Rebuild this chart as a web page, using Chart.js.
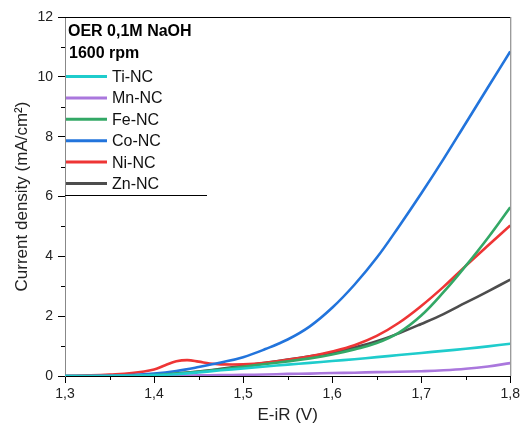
<!DOCTYPE html>
<html>
<head>
<meta charset="utf-8">
<script src="https://cdn.jsdelivr.net/npm/chart.js@4"></script>
<style>
  body { margin: 0; background: #fff; }
  canvas { display: block; }
</style>
</head>
<body>
<canvas id="oerChart" width="523" height="430"></canvas>
<script>
// Data (potential in V, current density in mA/cm2)
const potentials = [1.3, 1.325, 1.35, 1.375, 1.4, 1.425, 1.45, 1.475, 1.5, 1.525, 1.55,
    1.575, 1.6, 1.625, 1.65, 1.675, 1.7, 1.725, 1.75, 1.775, 1.8]

const tiNC = [0, 0, 0, 0.01, 0.03, 0.06, 0.12, 0.19, 0.25, 0.32, 0.38,
    0.44, 0.50, 0.56, 0.63, 0.70, 0.77, 0.84, 0.91, 0.99, 1.08]
const mnNC = [0, 0, 0, 0, 0, 0.01, 0.02, 0.03, 0.04, 0.05, 0.07,
    0.08, 0.10, 0.11, 0.13, 0.14, 0.16, 0.19, 0.24, 0.32, 0.43]
const feNC = [0, 0, 0, 0.01, 0.03, 0.08, 0.14, 0.22, 0.31, 0.40, 0.49,
    0.59, 0.72, 0.89, 1.10, 1.45, 2.02, 2.80, 3.68, 4.62, 5.64]
const coNC = [0, 0, 0.01, 0.03, 0.08, 0.17, 0.30, 0.45, 0.63, 0.90, 1.22,
    1.66, 2.28, 3.05, 3.95, 5.00, 6.10, 7.25, 8.45, 9.65, 10.85]
const znNC = [0, 0, 0, 0.01, 0.03, 0.08, 0.15, 0.24, 0.34, 0.44, 0.55,
    0.66, 0.78, 0.95, 1.16, 1.43, 1.74, 2.07, 2.45, 2.83, 3.22]

// Ni-NC has a small pre-peak, so it gets a few extra points
const niPotentials = [1.3, 1.325, 1.35, 1.375, 1.4, 1.4125, 1.425, 1.4375, 1.45, 1.4625, 1.475,
    1.5, 1.525, 1.55, 1.575, 1.6, 1.625, 1.65, 1.675, 1.7, 1.725, 1.75, 1.775, 1.8]
const niNC = [0, 0.02, 0.05, 0.10, 0.22, 0.36, 0.49, 0.53, 0.48, 0.42, 0.39,
    0.39, 0.44, 0.54, 0.66, 0.82, 1.03, 1.34, 1.78, 2.34, 2.98, 3.68, 4.36, 5.03]

const seriesNames = ["Ti-NC", "Mn-NC", "Fe-NC", "Co-NC", "Ni-NC", "Zn-NC"]
const seriesColors = ["#1fcccc", "#aa77dd", "#33a866", "#2274dc", "#ee3535", "#4d4d4d"]

const xTicks = [1.3, 1.4, 1.5, 1.6, 1.7, 1.8]
const xMinorTicks = [1.35, 1.45, 1.55, 1.65, 1.75]
const yMinorTicks = [1, 3, 5, 7, 9, 11]

const toPoints = (xs, ys) => xs.map((x, i) => ({ x: x, y: ys[i] }))

const seriesData = [
    toPoints(potentials, tiNC),
    toPoints(potentials, mnNC),
    toPoints(potentials, feNC),
    toPoints(potentials, coNC),
    toPoints(niPotentials, niNC),
    toPoints(potentials, znNC)
]

const FONT = "'Liberation Sans', Arial, sans-serif"

// Frame, minor ticks and the in-plot legend box
const framePlugin = {
    id: "frame",
    afterDraw(chart) {
        const ctx = chart.ctx
        const area = chart.chartArea
        const xs = chart.scales.x
        const ys = chart.scales.y

        ctx.save()
        ctx.lineWidth = 1
        ctx.strokeStyle = "#000"
        ctx.beginPath()
        ctx.moveTo(area.left, area.top + 0.5)
        ctx.lineTo(area.right, area.top + 0.5)
        ctx.stroke()
        ctx.strokeStyle = "#777"
        ctx.beginPath()
        ctx.moveTo(area.right + 0.5, area.top)
        ctx.lineTo(area.right + 0.5, area.bottom)
        ctx.stroke()

        // minor ticks
        ctx.strokeStyle = "#000"
        ctx.beginPath()
        xMinorTicks.forEach(v => {
            const px = Math.round(xs.getPixelForValue(v)) + 0.5
            ctx.moveTo(px, area.bottom)
            ctx.lineTo(px, area.bottom + 4)
        })
        yMinorTicks.forEach(v => {
            const py = Math.round(ys.getPixelForValue(v)) + 0.5
            ctx.moveTo(area.left - 4, py)
            ctx.lineTo(area.left, py)
        })
        ctx.stroke()

        // legend
        ctx.fillStyle = "#000"
        ctx.textBaseline = "middle"
        ctx.font = "bold 16px " + FONT
        ctx.fillText("OER 0,1M NaOH", area.left + 3, 32)
        ctx.fillText("1600 rpm", area.left + 4, 54)

        ctx.font = "16px " + FONT
        chart.data.datasets.forEach((ds, i) => {
            const y = 76.5 + i * 21.4
            ctx.strokeStyle = ds.borderColor
            ctx.lineWidth = 3
            ctx.beginPath()
            ctx.moveTo(area.left + 1, y)
            ctx.lineTo(area.left + 42, y)
            ctx.stroke()
            ctx.fillStyle = "#111"
            ctx.fillText(ds.label, area.left + 47, y + 1)
        })

        ctx.strokeStyle = "#000"
        ctx.lineWidth = 1
        ctx.beginPath()
        ctx.moveTo(area.left, 195.5)
        ctx.lineTo(207, 195.5)
        ctx.stroke()
        ctx.restore()
    }
}

new Chart(document.getElementById("oerChart"), {
    type: "line",
    data: {
        datasets: seriesData.map((pts, i) => ({
            label: seriesNames[i],
            data: pts,
            borderColor: seriesColors[i],
            backgroundColor: seriesColors[i],
            borderWidth: 2.6,
            pointRadius: 0,
            tension: 0.4,
            fill: false
        }))
    },
    options: {
        responsive: false,
        animation: false,
        layout: { padding: { top: 17, right: 12, left: 0, bottom: 0 } },
        plugins: {
            legend: { display: false },
            tooltip: { enabled: false }
        },
        scales: {
            x: {
                type: "linear",
                min: 1.3,
                max: 1.8,
                afterFit: scale => { scale.height = 54 },
                afterBuildTicks: scale => { scale.ticks = xTicks.map(v => ({ value: v })) },
                grid: { drawOnChartArea: false, tickLength: 7, tickColor: "#000" },
                border: { color: "#000", width: 1 },
                ticks: {
                    padding: 3,
                    color: "#222",
                    font: { family: FONT, size: 14 },
                    callback: v => v.toFixed(1).replace(".", ",")
                },
                title: {
                    display: true,
                    text: "E-iR (V)",
                    color: "#222",
                    font: { family: FONT, size: 17 },
                    padding: { top: 0, bottom: 4 }
                }
            },
            y: {
                min: 0,
                max: 12,
                afterFit: scale => { scale.width = 65 },
                grid: { drawOnChartArea: false, tickLength: 7, tickColor: "#000" },
                border: { color: "#888", width: 1 },
                ticks: {
                    stepSize: 2,
                    padding: 5,
                    color: "#222",
                    font: { family: FONT, size: 14 }
                },
                title: {
                    display: true,
                    text: "Current density (mA/cm²)",
                    color: "#222",
                    font: { family: FONT, size: 17 },
                    padding: { top: 12, bottom: 0 }
                }
            }
        }
    },
    plugins: [framePlugin]
})
</script>
</body>
</html>
